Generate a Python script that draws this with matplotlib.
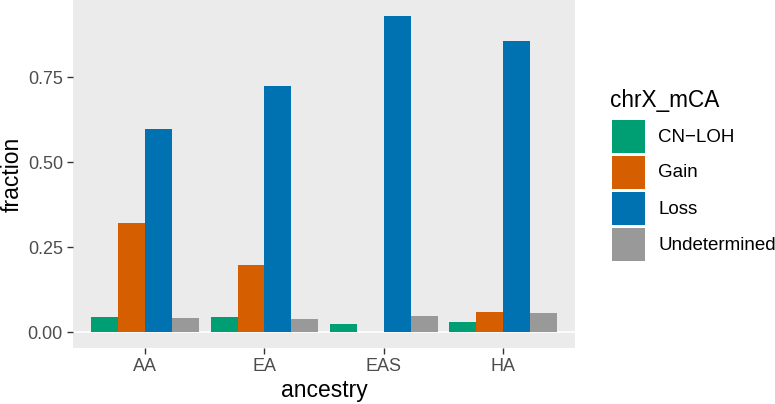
import numpy as np
import matplotlib.pyplot as plt

plt.rcParams['font.family'] = ['Liberation Sans', 'DejaVu Sans']

# data
ancestry = ['AA', 'EA', 'EAS', 'HA']
types = ['CN\u2212LOH', 'Gain', 'Loss', 'Undetermined']
cn_loh = [0.045, 0.043, 0.024, 0.031]
gain = [0.321, 0.197, 0.0, 0.060]
loss = [0.598, 0.725, 0.931, 0.856]
undetermined = [0.041, 0.039, 0.048, 0.056]
colors = ['#009E73', '#D55E00', '#0072B2', '#999999']

series = [cn_loh, gain, loss, undetermined]

fig = plt.figure(figsize=(7.75, 4.04), dpi=100)
ax = fig.add_axes([0.0947, 0.139, 0.647, 0.861])
ax.set_facecolor('#EBEBEB')

x = np.arange(1, len(ancestry) + 1)
w = 0.9 / len(series)
for i, (vals, c) in enumerate(zip(series, colors)):
    ax.bar(x - 0.45 + w * (i + 0.5), vals, width=w, color=c, linewidth=0)

ax.axhline(0, color='white', linewidth=1.2, zorder=0.5)

ax.set_xlim(0.4, 4.6)
ax.set_ylim(-0.0465, 0.9775)
ax.set_xticks(x)
ax.set_xticklabels(ancestry)
ax.set_yticks([0, 0.25, 0.5, 0.75])
ax.set_yticklabels(['0.00', '0.25', '0.50', '0.75'])
ax.tick_params(colors='#333333', labelcolor='#4D4D4D', labelsize=13, length=4, width=1)
for s in ax.spines.values():
    s.set_visible(False)

ax.set_xlabel('ancestry', fontsize=16.5, labelpad=3)
ax.set_ylabel('fraction', fontsize=16.5, labelpad=3)

# legend drawn by hand, ggplot style
fig.text(610 / 775, 1 - 100 / 404, 'chrX_mCA', fontsize=16.3, va='center', ha='left')
for i, (lab, c) in enumerate(zip(types, colors)):
    top = 120 + i * 36
    fig.patches.append(plt.Rectangle((611.5 / 775, 1 - (top + 33) / 404), 33.5 / 775, 33 / 404,
                                     transform=fig.transFigure, color=c, linewidth=0))
    fig.text(658 / 775, 1 - (top + 17) / 404, lab, fontsize=13.5, va='center', ha='left')

fig.savefig('out.png', dpi=100)
